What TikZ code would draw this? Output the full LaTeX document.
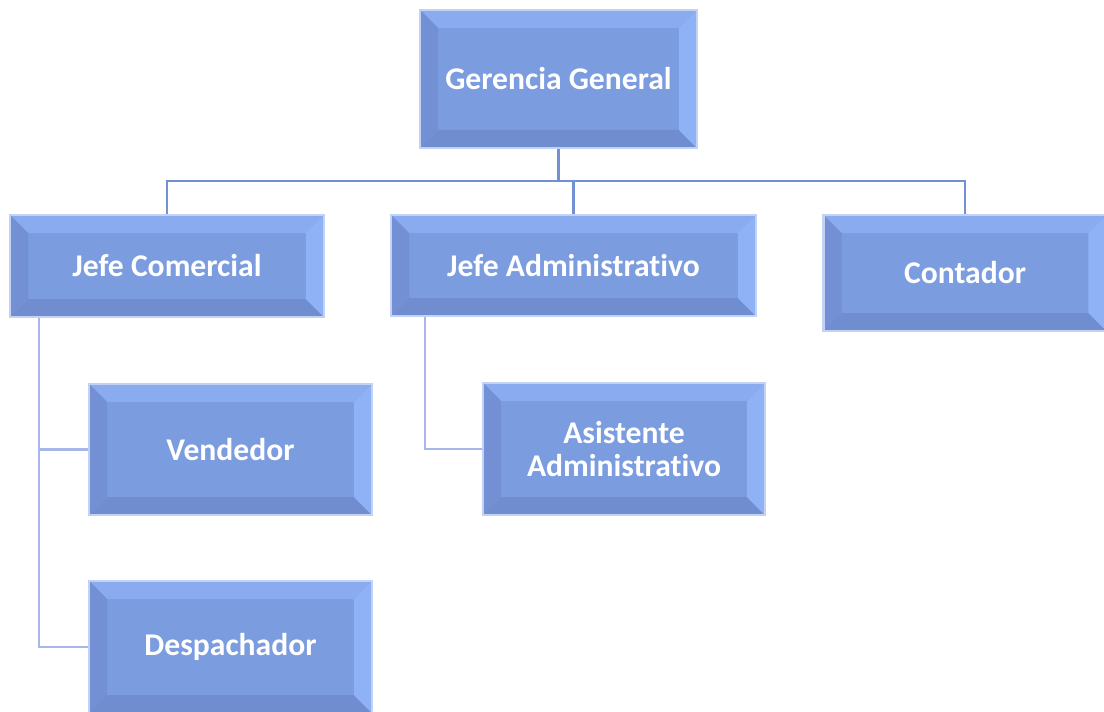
\documentclass[tikz,border=0pt]{standalone}
\usepackage{fontspec}
\setmainfont{Carlito}[RawFeature=-liga]
\definecolor{bxfill}{HTML}{7B9CDF}
\definecolor{bxborder}{HTML}{C3D1F2}
\definecolor{bvtop}{HTML}{8BABF0}
\definecolor{bvleft}{HTML}{7390D4}
\definecolor{bvright}{HTML}{8FB1F6}
\definecolor{bvbottom}{HTML}{708DCF}
\definecolor{topline}{HTML}{7290D6}
\definecolor{lowline}{HTML}{A8B6EA}
\def\bv{0.36cm}
\tikzset{
  bx/.style={draw=bxborder, line width=1.2pt, fill=bxfill, text=white,
    font=\bfseries\fontsize{18}{19.3}\selectfont, align=center, inner sep=0pt,
    path picture={
      \coordinate (NW) at (path picture bounding box.north west);
      \coordinate (NE) at (path picture bounding box.north east);
      \coordinate (SW) at (path picture bounding box.south west);
      \coordinate (SE) at (path picture bounding box.south east);
      \fill[bvtop] (NW) -- (NE) -- ([shift={(-\bv,-\bv)}]NE) -- ([shift={(\bv,-\bv)}]NW) -- cycle;
      \fill[bvbottom] (SW) -- (SE) -- ([shift={(-\bv,\bv)}]SE) -- ([shift={(\bv,\bv)}]SW) -- cycle;
      \fill[bvleft] (NW) -- (SW) -- ([shift={(\bv,\bv)}]SW) -- ([shift={(\bv,-\bv)}]NW) -- cycle;
      \fill[bvright] (NE) -- (SE) -- ([shift={(-\bv,\bv)}]SE) -- ([shift={(-\bv,-\bv)}]NE) -- cycle;
    }},
  topconn/.style={draw=topline, line width=1.5pt},
  lowconn/.style={draw=lowline, line width=1.5pt}
}
\begin{document}
\begin{tikzpicture}[x=0.02cm,y=-0.02cm]
\useasboundingbox (0,0) rectangle (1104,711);
\node[bx, minimum width=5.54cm, minimum height=2.76cm] (gg) at (558.5,79) {Gerencia General};
\node[bx, minimum width=6.28cm, minimum height=2.04cm] (jc) at (167,266) {Jefe Comercial};
\node[bx, minimum width=7.30cm, minimum height=2.02cm] (ja) at (573.5,265.5) {Jefe Administrativo};
\node[bx, minimum width=5.66cm, minimum height=2.32cm] (ct) at (965,273) {Contador};
\node[bx, minimum width=5.66cm, minimum height=2.62cm] (vd) at (230.5,449.5) {Vendedor};
\node[bx, minimum width=5.64cm, minimum height=2.64cm] (as) at (624,449) {Asistente\\Administrativo};
\node[bx, minimum width=5.66cm, minimum height=2.64cm] (dp) at (230.5,647) {Despachador};
\coordinate (bus) at (558.5,181);
\draw[topconn] (gg.south) -- (bus);
\draw[topconn] (jc.north) |- (bus) -| (ct.north);
\draw[topconn] (ja.north) -- (ja.north |- bus);
\draw[lowconn] ([xshift=0.6cm]jc.south west) |- (vd.west);
\draw[lowconn] ([xshift=0.6cm]jc.south west) |- (dp.west);
\draw[lowconn] ([xshift=0.7cm]ja.south west) |- (as.west);
\end{tikzpicture}
\end{document}
